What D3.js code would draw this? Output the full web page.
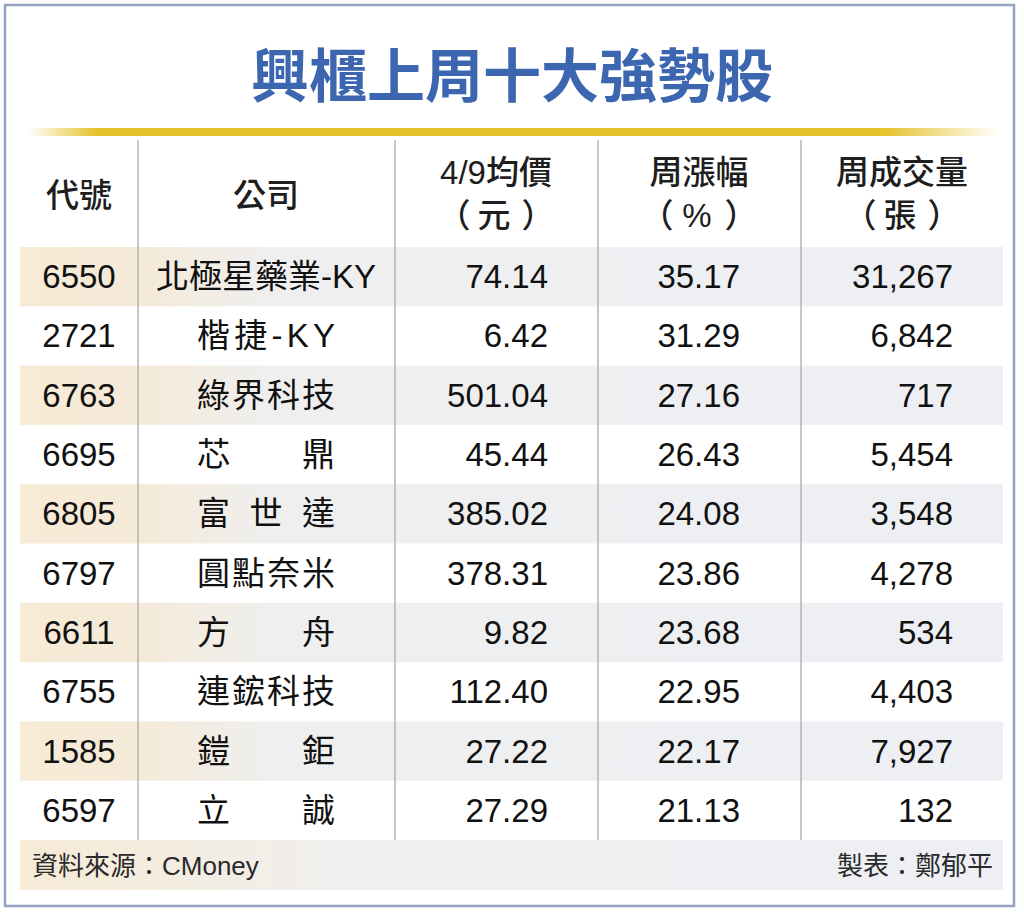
<!DOCTYPE html>
<html>
<head>
<meta charset="utf-8">
<script src="https://cdn.jsdelivr.net/npm/d3@7"></script>
<style>
  body { margin: 0; background: #fff; }
  text { font-family: "Liberation Sans", "Noto Sans CJK TC", sans-serif; }
</style>
</head>
<body>
<div id="table-chart"></div>
<script>
// data
let title = "興櫃上周十大強勢股";
let headers = [["代號"], ["公司"], ["4/9均價", "（元）"], ["周漲幅", "（%）"], ["周成交量", "（張）"]];
let codes = ["6550", "2721", "6763", "6695", "6805", "6797", "6611", "6755", "1585", "6597"];
let companies = ["北極星藥業-KY", "楷捷-KY", "綠界科技", "芯鼎", "富世達", "圓點奈米", "方舟", "連鋐科技", "鎧鉅", "立誠"];
let prices = [74.14, 6.42, 501.04, 45.44, 385.02, 378.31, 9.82, 112.40, 27.22, 27.29];
let changes = [35.17, 31.29, 27.16, 26.43, 24.08, 23.86, 23.68, 22.95, 22.17, 21.13];
let volumes = [31267, 6842, 717, 5454, 3548, 4278, 534, 4403, 7927, 132];
let source = "資料來源：CMoney";
let author = "製表：鄭郁平";

let width = 1024, height = 914;

let svg = d3.select("#table-chart")
    .append("svg")
    .attr("width", width)
    .attr("height", height);

let defs = svg.append("defs");

let gold = defs.append("linearGradient").attr("id", "gold")
    .attr("x1", "0%").attr("x2", "100%");
gold.append("stop").attr("offset", "0%").attr("stop-color", "#e6c22c").attr("stop-opacity", 0);
gold.append("stop").attr("offset", "7%").attr("stop-color", "#e6c22c").attr("stop-opacity", 1);
gold.append("stop").attr("offset", "88%").attr("stop-color", "#e6c22c").attr("stop-opacity", 1);
gold.append("stop").attr("offset", "100%").attr("stop-color", "#e6c22c").attr("stop-opacity", 0);

let rowFill = defs.append("linearGradient").attr("id", "rowfill")
    .attr("x1", "0%").attr("x2", "100%");
rowFill.append("stop").attr("offset", "0%").attr("stop-color", "#f7ebd6");
rowFill.append("stop").attr("offset", "12%").attr("stop-color", "#f5ead8");
rowFill.append("stop").attr("offset", "26%").attr("stop-color", "#efefef");
rowFill.append("stop").attr("offset", "100%").attr("stop-color", "#edeff4");

let footFill = defs.append("linearGradient").attr("id", "footfill")
    .attr("x1", "0%").attr("x2", "100%");
footFill.append("stop").attr("offset", "0%").attr("stop-color", "#f7ebd6");
footFill.append("stop").attr("offset", "35%").attr("stop-color", "#efefef");
footFill.append("stop").attr("offset", "100%").attr("stop-color", "#edeff4");

// outer frame
svg.append("rect")
    .attr("x", 5).attr("y", 5)
    .attr("width", 1009).attr("height", 901)
    .attr("fill", "#fff")
    .attr("stroke", "#97a3c4")
    .attr("stroke-width", 2.5);

// title
svg.append("text")
    .attr("x", 512).attr("y", 72)
    .attr("text-anchor", "middle")
    .attr("dominant-baseline", "central")
    .style("font-family", "'Noto Sans CJK TC', sans-serif")
    .style("font-size", "58px")
    .style("font-weight", "bold")
    .style("fill", "#3d66b0")
    .text(title);

svg.append("rect")
    .attr("x", 28).attr("y", 128)
    .attr("width", 972).attr("height", 8)
    .attr("fill", "url(#gold)");

// scales
let y = d3.scaleBand()
    .domain(d3.range(codes.length))
    .range([247, 840]);

let edges = [20, 138, 395, 598, 801, 1003];
let colCenter = d3.scaleOrdinal()
    .domain(d3.range(5))
    .range([79, 266, 496, 699, 902]);
let colRight = d3.scaleOrdinal()
    .domain([2, 3, 4])
    .range([548, 740, 953]);

// shaded rows
svg.selectAll("rect.band")
    .data(d3.range(codes.length).filter(function (i) { return i % 2 === 0; }))
    .enter()
    .append("rect")
    .attr("class", "band")
    .attr("x", edges[0])
    .attr("y", function (i) { return y(i); })
    .attr("width", edges[5] - edges[0])
    .attr("height", y.bandwidth())
    .attr("fill", "url(#rowfill)");

// footer band
svg.append("rect")
    .attr("x", edges[0]).attr("y", 840)
    .attr("width", edges[5] - edges[0]).attr("height", 50)
    .attr("fill", "url(#footfill)");

// column dividers
svg.selectAll("line.divider")
    .data(edges.slice(1, 5))
    .enter()
    .append("line")
    .attr("class", "divider")
    .attr("x1", function (d) { return d; })
    .attr("x2", function (d) { return d; })
    .attr("y1", 140)
    .attr("y2", 840)
    .attr("stroke", "#b4b4b4")
    .attr("stroke-width", 1.5);

// headers: unit lines split so the brackets sit wide apart
let headPieces = [];
headers.forEach(function (lines, col) {
    lines.forEach(function (t, j) {
        let ly = lines.length === 1 ? 195 : (j === 0 ? 172 : 215);
        if (j === 1) {
            let chars = Array.from(t);
            headPieces.push({text: chars[0], x: colCenter(col) - 42, y: ly});
            headPieces.push({text: chars.slice(1, -1).join(""), x: colCenter(col) - 2, y: ly});
            headPieces.push({text: chars[chars.length - 1], x: colCenter(col) + 42, y: ly});
        } else {
            headPieces.push({text: t, x: colCenter(col), y: ly});
        }
    });
});

svg.selectAll("text.head")
    .data(headPieces)
    .enter()
    .append("text")
    .attr("class", "head")
    .attr("x", function (d) { return d.x; })
    .attr("y", function (d) { return d.y; })
    .attr("text-anchor", "middle")
    .attr("dominant-baseline", "central")
    .style("font-size", "33px")
    .style("font-weight", 500)
    .style("fill", "#1e1e1e")
    .text(function (d) { return d.text; });

let fmtPrice = d3.format(".2f");
let fmtVol = d3.format(",");

let rows = svg.selectAll("g.row")
    .data(codes)
    .enter()
    .append("g")
    .attr("class", "row")
    .attr("transform", function (d, i) {
        return "translate(0," + (y(i) + y.bandwidth() / 2) + ")";
    });

let cellStyle = function (sel) {
    sel.attr("dominant-baseline", "central")
        .style("font-size", "33px")
        .style("fill", "#111");
};

rows.append("text")
    .attr("x", colCenter(0))
    .attr("text-anchor", "middle")
    .call(cellStyle)
    .text(function (d) { return d; });

// company names are justified across a fixed width when short
rows.append("text")
    .call(cellStyle)
    .attr("text-anchor", "start")
    .text(function (d, i) { return companies[i]; })
    .each(function () {
        let t = d3.select(this);
        let w = this.getComputedTextLength();
        let target = 138;
        if (w < target) {
            t.attr("textLength", target).attr("lengthAdjust", "spacing");
            w = target;
        }
        t.attr("x", colCenter(1) - w / 2);
    });

rows.append("text")
    .attr("x", colRight(2))
    .attr("text-anchor", "end")
    .call(cellStyle)
    .text(function (d, i) { return fmtPrice(prices[i]); });

rows.append("text")
    .attr("x", colRight(3))
    .attr("text-anchor", "end")
    .call(cellStyle)
    .text(function (d, i) { return fmtPrice(changes[i]); });

rows.append("text")
    .attr("x", colRight(4))
    .attr("text-anchor", "end")
    .call(cellStyle)
    .text(function (d, i) { return fmtVol(volumes[i]); });

// footer
svg.append("text")
    .attr("x", 32).attr("y", 866)
    .attr("dominant-baseline", "central")
    .style("font-size", "26px")
    .style("fill", "#2a2a2a")
    .text(source);

svg.append("text")
    .attr("x", 993).attr("y", 866)
    .attr("text-anchor", "end")
    .attr("dominant-baseline", "central")
    .style("font-size", "26px")
    .style("fill", "#2a2a2a")
    .text(author);
</script>
</body>
</html>
